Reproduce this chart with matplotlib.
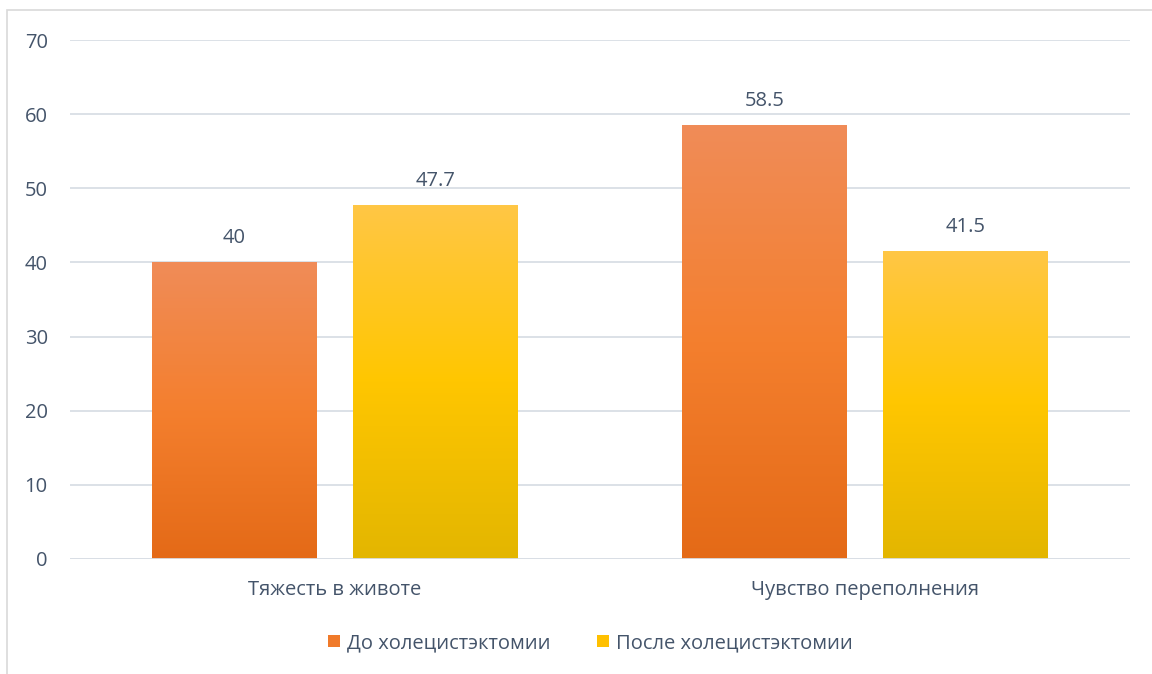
import matplotlib
matplotlib.use("Agg")
import matplotlib.pyplot as plt
import numpy as np
from matplotlib.colors import LinearSegmentedColormap
from matplotlib.patches import Rectangle

categories = ["Тяжесть в животе", "Чувство переполнения"]
series_names = ["До холецистэктомии", "После холецистэктомии"]
before = [40, 58.5]
after = [47.7, 41.5]
value_labels_before = ["40", "58.5"]
value_labels_after = ["47.7", "41.5"]

TXT = "#44546A"
GRID = "#D9DEE5"
FS = 14.5
plt.rcParams['font.family'] = ['Open Sans', 'DejaVu Sans']

fig = plt.figure(figsize=(11.52, 6.74), dpi=100)
W, H = 1152, 674
ax = fig.add_axes([70 / W, 1 - 559 / H, 1060 / W, (559 - 40) / H])
ax.set_xlim(-0.5, 1.5)
ax.set_ylim(0, 70)

grads = [
    LinearSegmentedColormap.from_list("o", ["#E46A17", "#F47F2E", "#F08C58"]),
    LinearSegmentedColormap.from_list("y", ["#E3B600", "#FFC600", "#FFC745"]),
]
solid = ["#F07A2A", "#FFC000"]

bw = 0.311
offs = [-0.19, 0.19]
x = np.arange(len(categories))
grad = np.linspace(0, 1, 256).reshape(-1, 1)
for si, (vals, labs) in enumerate([(before, value_labels_before), (after, value_labels_after)]):
    bars = ax.bar(x + offs[si], vals, bw, color="none", zorder=3)
    for b, lab in zip(bars, labs):
        x0, y0 = b.get_x(), b.get_y()
        w, h = b.get_width(), b.get_height()
        im = ax.imshow(grad, cmap=grads[si], aspect="auto", origin="lower",
                       extent=[x0, x0 + w, y0, y0 + h], zorder=3)
        im.set_clip_path(b)
        ax.text(x0 + w / 2, y0 + h + 1.9, lab, ha="center", va="bottom",
                fontsize=FS, color=TXT)

ax.set_yticks(np.arange(0, 71, 10))
ax.yaxis.grid(True, color=GRID, linewidth=1.3, zorder=0)
ax.set_axisbelow(True)
for s in ax.spines.values():
    s.set_visible(False)
ax.tick_params(axis="y", length=0, pad=16, labelsize=FS, labelcolor=TXT)
ax.set_xticks(x)
ax.set_xticklabels(categories)
ax.tick_params(axis="x", length=0, pad=15, labelsize=FS, labelcolor=TXT)
ax.axhline(0, color=GRID, linewidth=1.3, zorder=4)

# figure border
fig.patches.append(Rectangle((7 / W, -0.1), 1.2, 1 - 10 / H + 0.1, transform=fig.transFigure,
                             fill=False, edgecolor="#D9D9D9", linewidth=1.2))

handles = [Rectangle((0, 0), 1, 1, facecolor=solid[i]) for i in range(2)]
fig.legend(handles, series_names, loc="center", bbox_to_anchor=(590 / W, 1 - 643 / H),
           ncol=2, frameon=False, fontsize=FS, labelcolor=TXT, handlelength=0.6,
           handleheight=0.6, handletextpad=0.35, columnspacing=2.3)

fig.savefig("out.png", dpi=100)
